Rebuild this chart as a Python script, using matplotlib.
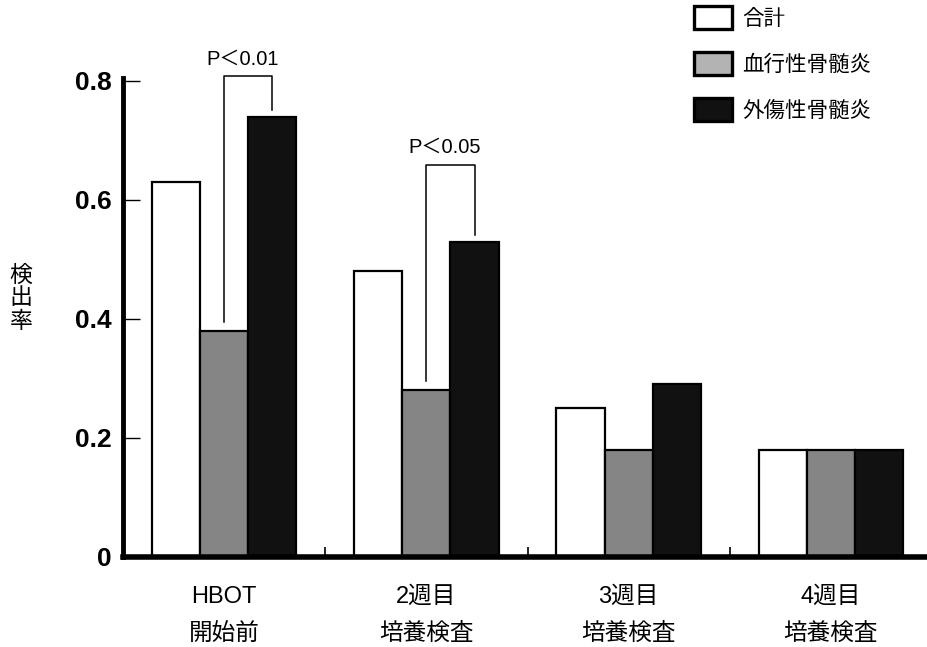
import matplotlib
matplotlib.use("Agg")
import matplotlib.pyplot as plt
from matplotlib.patches import Patch
import numpy as np

plt.rcParams['font.family'] = ['Liberation Sans', 'Noto Sans CJK JP', 'DejaVu Sans']

categories = ["HBOT\n開始前", "2週目\n培養検査", "3週目\n培養検査", "4週目\n培養検査"]
series_names = ["合計", "血行性骨髄炎", "外傷性骨髄炎"]
total = [0.63, 0.48, 0.25, 0.18]
hematogenous = [0.38, 0.28, 0.18, 0.18]
traumatic = [0.74, 0.53, 0.29, 0.18]
yticks = [0, 0.2, 0.4, 0.6, 0.8]
ytick_labels = ["0", "0.2", "0.4", "0.6", "0.8"]
# significance: (group index, label)
sig_groups = [0, 1]
sig_labels = ["P＜0.01", "P＜0.05"]
sig_tops = [0.808, 0.659]

fig = plt.figure(figsize=(9.27, 6.47), dpi=100)
ax = fig.add_axes([123/927, 90/647, 804/927, 479/647])

x = np.arange(len(categories))
w = 0.238
fills = ["white", "#858585", "#111111"]
legend_fills = ["white", "#b3b3b3", "#111111"]
data = [total, hematogenous, traumatic]
for i, (vals, fc) in enumerate(zip(data, fills)):
    ax.bar(x + (i - 1) * w, vals, width=w, color=fc, edgecolor="black",
           linewidth=1.6, zorder=2)

ax.set_xlim(-0.5, 3.475)
ax.set_ylim(0, 0.805)

for side in ["top", "right"]:
    ax.spines[side].set_visible(False)
ax.spines["left"].set_linewidth(3.5)
ax.spines["bottom"].set_linewidth(4)
ax.spines["left"].set_zorder(3)
ax.spines["bottom"].set_zorder(3)

ax.set_yticks(yticks)
ax.set_yticklabels(ytick_labels, fontsize=19, fontweight="bold")
ax.tick_params(axis="y", direction="in", length=12, width=1, pad=8)

ax.set_xticks([0.5, 1.5, 2.5])
ax.set_xticklabels([])
ax.tick_params(axis="x", which="major", direction="in", length=7, width=1.2)
ax.set_xticks(x, minor=True)
ax.set_xticklabels(categories, minor=True, fontsize=17, linespacing=1.85)
ax.tick_params(axis="x", which="minor", length=0, pad=21)

# significance brackets
for g, lab, top in zip(sig_groups, sig_labels, sig_tops):
    xl = x[g]
    xr = x[g] + w
    yl = hematogenous[g] + 0.015
    yr = traumatic[g] + 0.011
    ax.plot([xl, xl, xr, xr], [yl, top, top, yr], color="black", lw=1.1,
            clip_on=False, zorder=4)
    ax.text((xl + xr) / 2 - 0.03, top + 0.02, lab, ha="center", va="baseline",
            fontsize=14.5, clip_on=False)

# y label, stacked vertical characters
fig.text(21/927, 1 - 298/647, "検\n出\n率", ha="center", va="center",
         fontsize=16.5, linespacing=1.0, family=["Noto Sans CJK JP"])

handles = [Patch(facecolor=fc, edgecolor="black", linewidth=2.4) for fc in legend_fills]
leg = fig.legend(handles, series_names, loc="upper left",
                 bbox_to_anchor=(694/927, 1 - 6/647), frameon=False,
                 fontsize=15.5, handlelength=1.75, handleheight=1.25,
                 handletextpad=0.5, labelspacing=1.05, borderpad=0,
                 borderaxespad=0)

fig.savefig("out.png", dpi=100)
